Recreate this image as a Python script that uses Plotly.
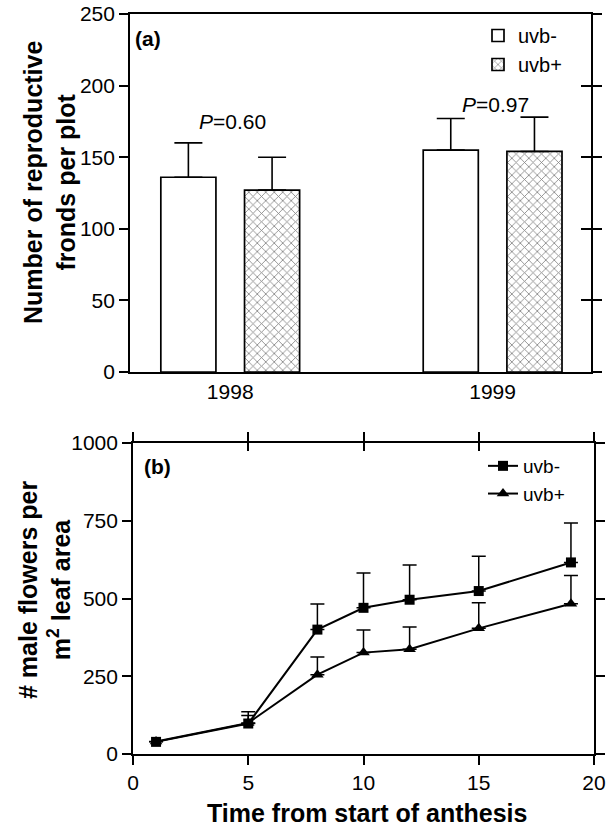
import plotly.graph_objects as go

# ---------------- data ----------------
years = [1998, 1999]
year_labels = ["1998", "1999"]
fronds_uvb_minus = [136, 155]
fronds_uvb_minus_err = [24, 22]
fronds_uvb_plus = [127, 154]
fronds_uvb_plus_err = [23, 24]
p_labels = ["<i>P</i>=0.60", "<i>P</i>=0.97"]
p_label_y = [175, 187]

days = [1, 5, 8, 10, 12, 15, 19]
flowers_uvb_minus = [39, 98, 400, 470, 496, 524, 616]
flowers_uvb_minus_err = [0, 38, 82, 112, 112, 112, 127]
flowers_uvb_plus = [40, 100, 255, 326, 337, 404, 483]
flowers_uvb_plus_err = [0, 24, 57, 73, 71, 82, 91]

FONT = "Liberation Sans, Arial, sans-serif"
W, H = 607, 829

def px_x(p):
    return p / W

def px_y(p):
    return 1 - p / H

fig = go.Figure()

BAR_W = 0.21
fig.add_trace(go.Bar(
    x=years, y=fronds_uvb_minus, name="uvb-", width=BAR_W, offset=-0.2645,
    marker=dict(color="white", line=dict(color="black", width=1.7)),
    error_y=dict(type="data", array=fronds_uvb_minus_err, arrayminus=[0, 0],
                 symmetric=False, color="black", thickness=1.6, width=14),
    xaxis="x", yaxis="y", legend="legend",
))
fig.add_trace(go.Bar(
    x=years, y=fronds_uvb_plus, name="uvb+", width=BAR_W, offset=0.0545,
    marker=dict(color="white", line=dict(color="black", width=1.7),
                pattern=dict(shape="x", fgcolor="black", bgcolor="white",
                             size=6, solidity=0.25)),
    error_y=dict(type="data", array=fronds_uvb_plus_err, arrayminus=[0, 0],
                 symmetric=False, color="black", thickness=1.6, width=14),
    xaxis="x", yaxis="y", legend="legend",
))

fig.add_trace(go.Scatter(
    x=days, y=flowers_uvb_minus, name="uvb-", mode="lines+markers",
    line=dict(color="black", width=2),
    marker=dict(symbol="square", size=10, color="black"),
    error_y=dict(type="data", array=flowers_uvb_minus_err,
                 arrayminus=[0] * len(days), symmetric=False,
                 color="black", thickness=1.5, width=7),
    xaxis="x2", yaxis="y2", legend="legend2",
))
fig.add_trace(go.Scatter(
    x=days, y=flowers_uvb_plus, name="uvb+", mode="lines+markers",
    line=dict(color="black", width=2),
    marker=dict(symbol="triangle-up", size=11, color="black"),
    error_y=dict(type="data", array=flowers_uvb_plus_err,
                 arrayminus=[0] * len(days), symmetric=False,
                 color="black", thickness=1.5, width=7),
    xaxis="x2", yaxis="y2", legend="legend2",
))

# invisible helpers so the overlay tick axes are drawn
fig.add_trace(go.Scatter(x=[None], y=[None], xaxis="x", yaxis="y3",
                         showlegend=False, hoverinfo="skip"))
fig.add_trace(go.Scatter(x=[None], y=[None], xaxis="x3", yaxis="y2",
                         showlegend=False, hoverinfo="skip"))

top_xdom = [px_x(130), px_x(591)]
top_ydom = [px_y(372), px_y(14)]
bot_xdom = [px_x(133), px_x(594)]
bot_ydom = [px_y(754), px_y(443)]

tickfont = dict(family=FONT, size=21, color="black")
axis_common = dict(showgrid=False, zeroline=False, linecolor="black",
                   linewidth=1.7, tickcolor="black", tickwidth=1.5,
                   tickfont=tickfont, automargin=False)

fig.update_layout(
    width=W, height=H,
    margin=dict(l=0, r=0, t=0, b=0),
    paper_bgcolor="white", plot_bgcolor="white",
    font=dict(family=FONT, color="black"),
    barmode="overlay",
    xaxis=dict(domain=top_xdom, anchor="y", range=[1997.618, 1999.375],
               tickvals=years, ticktext=year_labels, ticks="",
               showline=True, mirror=True, **axis_common),
    yaxis=dict(domain=top_ydom, anchor="x", range=[0, 250],
               tickvals=[0, 50, 100, 150, 200, 250], ticks="outside",
               ticklen=9, showline=True, mirror="ticks", **axis_common),
    yaxis3=dict(overlaying="y", side="right", anchor="x", range=[0, 250],
                tickvals=[0, 50, 100, 150, 200, 250], ticks="inside",
                ticklen=10, showticklabels=False, showline=False,
                **axis_common),
    xaxis2=dict(domain=bot_xdom, anchor="y2", range=[0, 20],
                tickvals=[0, 5, 10, 15, 20], ticks="outside", ticklen=9,
                showline=True, mirror="ticks", **axis_common),
    xaxis3=dict(overlaying="x2", side="top", anchor="y2", range=[0, 20],
                tickvals=[0, 5, 10, 15, 20], ticks="inside", ticklen=8,
                showticklabels=False, showline=False, **axis_common),
    yaxis2=dict(domain=bot_ydom, anchor="x2", range=[0, 1000],
                tickvals=[0, 250, 500, 750, 1000], ticks="outside",
                ticklen=9, showline=True, mirror="ticks", **axis_common),
    legend=dict(x=px_x(478), y=px_y(16), xanchor="left", yanchor="top",
                bgcolor="rgba(0,0,0,0)", borderwidth=0,
                font=dict(family=FONT, size=20, color="black"),
                traceorder="normal"),
    legend2=dict(x=px_x(483), y=px_y(447), xanchor="left", yanchor="top",
                 bgcolor="rgba(0,0,0,0)", borderwidth=0,
                 font=dict(family=FONT, size=19, color="black"),
                 traceorder="normal"),
    showlegend=True,
)

def ann(text, x, y, size, angle=0):
    return dict(text=text, x=px_x(x), y=px_y(y), xref="paper", yref="paper",
                xanchor="center", yanchor="middle", textangle=angle,
                showarrow=False, font=dict(family=FONT, size=size, color="black"))

annotations = [
    ann("<b>(a)</b>", 148, 39, 21),
    ann("<b>(b)</b>", 157, 466, 21),
    ann("<b>Number of reproductive<br>fronds per plot</b>", 49, 183, 25, -90),
    ann("<b># male flowers per<br>m<sup>2</sup> leaf area</b>", 44, 590, 25, -90),
    ann("<b>Time from start of anthesis</b>", 367, 813, 25),
]
for yr, lab, ly in zip(years, p_labels, p_label_y):
    annotations.append(dict(text=lab, x=yr + 0.01, y=ly, xref="x", yref="y",
                            xanchor="center", yanchor="middle",
                            showarrow=False,
                            font=dict(family=FONT, size=21, color="black")))
fig.update_layout(annotations=annotations)

fig.write_html(
    "out.html",
    config={"displayModeBar": False},
    post_script="document.body.style.margin='0';document.body.style.padding='0';",
)
